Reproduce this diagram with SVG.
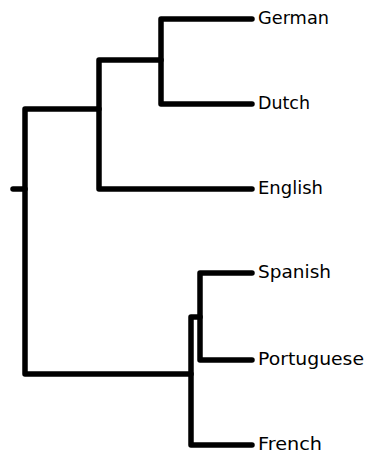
<svg xmlns="http://www.w3.org/2000/svg" width="366" height="457" viewBox="0 0 366 457">
  <style>
    .branch { fill: none; stroke: #000; stroke-width: 5.5; stroke-linecap: round; stroke-linejoin: round; }
    .leaf { font-family: "DejaVu Sans", "Liberation Sans", sans-serif; font-size: 17px; fill: #000; }
  </style>
  <rect width="366" height="457" fill="#fff"/>
  <!-- tree branches -->
  <g id="connectors">
    <!-- root stub and root split -->
    <path class="branch" d="M13,189 H25"/>
    <path class="branch" d="M99,109 H25 V374 H191"/>
    <!-- Germanic clade -->
    <path class="branch" d="M161,60 H99 V189 H252"/>
    <path class="branch" d="M252,19 H161 V104 H252"/>
    <!-- Romance clade -->
    <path class="branch" d="M200,317 H191 V445 H252"/>
    <path class="branch" d="M252,273 H200 V360 H252"/>
  </g>
  <g id="german"><text class="leaf" x="258" y="24" textLength="71" lengthAdjust="spacingAndGlyphs">German</text></g>
  <g id="dutch"><text class="leaf" x="258" y="109" textLength="52" lengthAdjust="spacingAndGlyphs">Dutch</text></g>
  <g id="english"><text class="leaf" x="258" y="194" textLength="65" lengthAdjust="spacingAndGlyphs">English</text></g>
  <g id="spanish"><text class="leaf" x="258" y="278" textLength="73" lengthAdjust="spacingAndGlyphs">Spanish</text></g>
  <g id="portuguese"><text class="leaf" x="258" y="365" textLength="106" lengthAdjust="spacingAndGlyphs">Portuguese</text></g>
  <g id="french"><text class="leaf" x="258" y="450" textLength="64" lengthAdjust="spacingAndGlyphs">French</text></g>
</svg>
